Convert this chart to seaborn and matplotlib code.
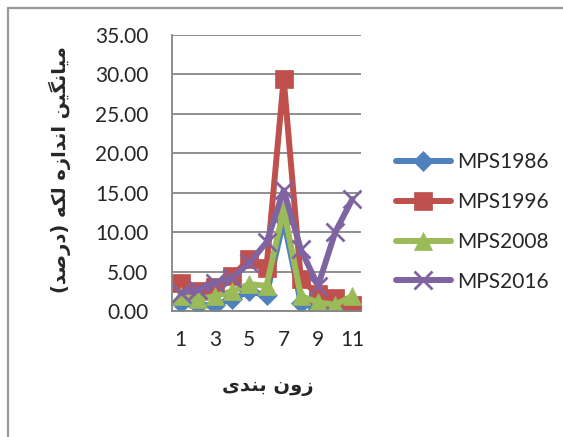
import pandas as pd
import numpy as np
import matplotlib
matplotlib.use("Agg")
import matplotlib.pyplot as plt
import seaborn as sns
from matplotlib.patches import Rectangle

# data
zones = list(range(1, 12))
mps1986 = [1.0, 0.7, 0.8, 1.5, 2.5, 2.0, 11.5, 1.0, 0.3, 0.1, 0.5]
mps1996 = [3.5, 2.5, 3.0, 4.4, 6.6, 5.5, 29.4, 4.0, 2.1, 1.7, 0.8]
mps2008 = [1.9, 1.5, 1.9, 2.5, 3.4, 3.2, 12.9, 1.9, 1.1, 0.8, 1.9]
mps2016 = [2.3, 2.7, 3.6, 4.2, 6.1, 8.7, 15.3, 7.8, 3.2, 10.0, 14.2]
series_names = ["MPS1986", "MPS1996", "MPS2008", "MPS2016"]
y_ticks = [0, 5, 10, 15, 20, 25, 30, 35]
x_labels = [1, 3, 5, 7, 9, 11]
x_title = "زون بندی"
y_title = "میانگین اندازه لکه (درصد)"

# matplotlib has no arabic shaping, so pick presentation forms by hand
FORMS = {
    'ا': ('\uFE8D', '\uFE8E', None, None),
    'ب': ('\uFE8F', '\uFE90', '\uFE91', '\uFE92'),
    'د': ('\uFEA9', '\uFEAA', None, None),
    'ر': ('\uFEAD', '\uFEAE', None, None),
    'ز': ('\uFEAF', '\uFEB0', None, None),
    'ص': ('\uFEB9', '\uFEBA', '\uFEBB', '\uFEBC'),
    'ل': ('\uFEDD', '\uFEDE', '\uFEDF', '\uFEE0'),
    'م': ('\uFEE1', '\uFEE2', '\uFEE3', '\uFEE4'),
    'ن': ('\uFEE5', '\uFEE6', '\uFEE7', '\uFEE8'),
    'ه': ('\uFEE9', '\uFEEA', '\uFEEB', '\uFEEC'),
    'و': ('\uFEED', '\uFEEE', None, None),
    'ی': ('\uFBFC', '\uFBFD', '\uFBFE', '\uFBFF'),
    'ک': ('\uFB8E', '\uFB8F', '\uFB90', '\uFB91'),
    'گ': ('\uFB92', '\uFB93', '\uFB94', '\uFB95'),
}


def shape(s):
    out = []
    for i, ch in enumerate(s):
        if ch not in FORMS:
            out.append(ch)
            continue
        prev = s[i - 1] if i > 0 else ''
        nxt = s[i + 1] if i + 1 < len(s) else ''
        jp = prev in FORMS and FORMS[prev][2] is not None
        jn = FORMS[ch][2] is not None and nxt in FORMS
        f = FORMS[ch]
        out.append(f[3] if (jp and jn) else f[1] if jp else f[2] if jn else f[0])
    vis = ''.join(out)[::-1]
    return vis.translate(str.maketrans('()', ')('))


sns.set_style("white")
plt.rcParams['font.family'] = ['Lato', 'DejaVu Sans']

fig = plt.figure(figsize=(5.63, 4.37), dpi=100)
ax = fig.add_axes([172 / 563, 1 - 311 / 437, 189 / 563, 276 / 437])

colors = ["#4F81BD", "#C0504D", "#9BBB59", "#8064A2"]
markers = ["D", "s", "^", "x"]
msizes = [10, 13, 13, 13]
values = [mps1986, mps1996, mps2008, mps2016]

for name, vals, c, m, ms in zip(series_names, values, colors, markers, msizes):
    sns.lineplot(x=zones, y=vals, ax=ax, color=c, marker=m, markersize=ms,
                 linewidth=4.3, label=name, markeredgecolor=c,
                 markeredgewidth=2.0 if m == "x" else 0.5)

ax.set_xlim(0.5, 11.5)
ax.set_ylim(0, 35)
ax.set_yticks(y_ticks)
ax.set_yticklabels([f"{v:.2f}" for v in y_ticks])
ax.set_xticks(x_labels)
ax.set_xticklabels([str(v) for v in x_labels])
ax.grid(axis='y', color='#868686', linewidth=1.3)
ax.set_axisbelow(True)
for side in ['top', 'right']:
    ax.spines[side].set_visible(False)
for side in ['left', 'bottom']:
    ax.spines[side].set_color('#868686')
    ax.spines[side].set_linewidth(1.3)
ax.tick_params(axis='y', length=5, color='#868686', width=1.2, pad=12, labelsize=15)
ax.tick_params(axis='x', length=0, pad=14, labelsize=15)
ax.set_xlabel('')
ax.set_ylabel('')

fig.text(268 / 563, 1 - 386 / 437, shape(x_title), ha='center', va='center',
         fontsize=14, fontweight='bold', family=['DejaVu Sans'])
fig.text(60 / 563, 1 - 170 / 437, shape(y_title), ha='center', va='center',
         rotation=90, fontsize=14, fontweight='bold', family=['DejaVu Sans'])

ax.get_legend().remove()
handles, labels = ax.get_legend_handles_labels()
fig.legend(handles, labels, loc='center left', bbox_to_anchor=(388 / 563, 1 - 222 / 437),
           frameon=False, fontsize=15, handlelength=2.6, labelspacing=0.95,
           handletextpad=0.3, borderaxespad=0)

# chart frame (only top and left edges visible in the crop)
fig.patches.append(Rectangle((8 / 563, -0.1), 1.2, 1 - 8 / 437 + 0.1,
                             transform=fig.transFigure, fill=False,
                             edgecolor='#999999', linewidth=1.6))

fig.savefig("out.png", dpi=100)
